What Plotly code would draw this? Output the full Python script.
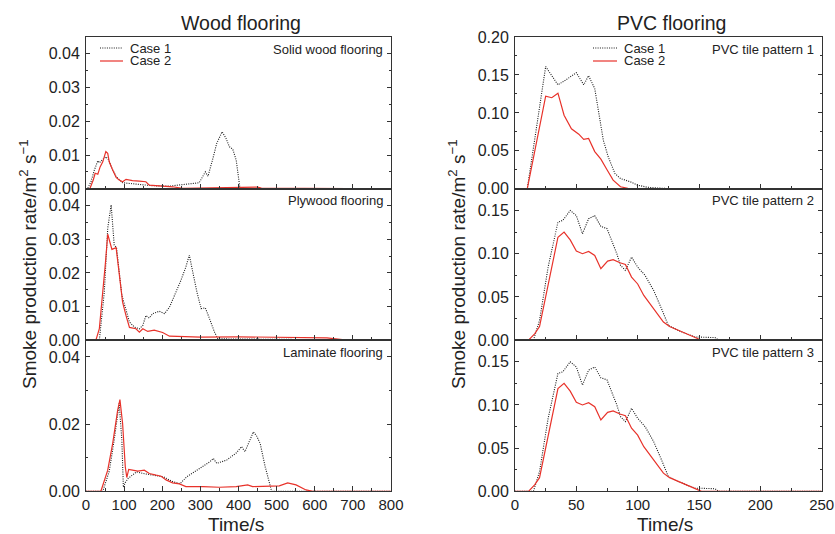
import plotly.graph_objects as go

# ---------------- data ----------------
# Wood flooring panels (time in s, smoke production rate in m2/s)
solid_t1 = [0, 4, 13, 22, 31, 35, 44, 52, 60, 66, 79, 96, 131, 175, 219, 262, 297, 313, 320, 334, 343, 357, 367, 376, 385, 394, 404, 800]
solid_v1 = [0, 0, 0.0021, 0.0056, 0.0083, 0.0077, 0.0087, 0.0095, 0.0085, 0.0065, 0.0036, 0.0018, 0.0014, 0.0009, 0.0008, 0.0013, 0.0018, 0.005, 0.0037, 0.0095, 0.0135, 0.0169, 0.015, 0.0125, 0.0117, 0.0085, 0.0, 0]
solid_t2 = [0, 10, 19, 24, 31, 37, 44, 52, 57, 61, 70, 79, 87, 96, 105, 122, 140, 157, 166, 201, 227, 254, 300, 400, 440, 450, 460, 800]
solid_v2 = [0, 0, 0.0026, 0.0046, 0.0043, 0.0065, 0.008, 0.011, 0.0105, 0.008, 0.0056, 0.0034, 0.0026, 0.0021, 0.0028, 0.0024, 0.0023, 0.0021, 0.0011, 0.0008, 0.0006, 0.0001, 0.0002, 0.0002, 0.0003, 0.0005, 0.0002, 0]

ply_t1 = [0, 35, 48, 57, 66, 74, 80, 87, 94, 105, 114, 127, 140, 149, 157, 166, 175, 192, 206, 219, 236, 249, 262, 271, 280, 291, 302, 313, 324, 337, 346, 800]
ply_v1 = [0, 0, 0.0143, 0.0333, 0.0402, 0.0283, 0.0275, 0.0213, 0.0134, 0.009, 0.0054, 0.0039, 0.0034, 0.0044, 0.0073, 0.0066, 0.0079, 0.0086, 0.0079, 0.0098, 0.0143, 0.0178, 0.0218, 0.0253, 0.0203, 0.0143, 0.0094, 0.0096, 0.0064, 0.0024, 0.0004, 0.0]
ply_t2 = [0, 26, 35, 44, 51, 57, 68, 79, 86, 96, 105, 114, 131, 140, 149, 162, 179, 201, 219, 300, 400, 500, 600, 632, 684, 800]
ply_v2 = [0, 0, 0.0034, 0.0133, 0.023, 0.0315, 0.027, 0.0275, 0.0203, 0.0113, 0.0073, 0.0038, 0.0034, 0.0024, 0.0034, 0.0026, 0.003, 0.0023, 0.0012, 0.0009, 0.001, 0.0009, 0.0008, 0.0007, 0, 0]

lam_t1 = [0, 44, 61, 74, 87, 94, 98, 103, 111, 133, 150, 185, 203, 229, 247, 264, 299, 325, 334, 343, 369, 395, 408, 417, 439, 448, 457, 470, 487, 800]
lam_v1 = [0, 0, 0.006, 0.0153, 0.0262, 0.0153, 0.0012, 0.0026, 0.0039, 0.0058, 0.0053, 0.0047, 0.0043, 0.0028, 0.0023, 0.0043, 0.0068, 0.0088, 0.0098, 0.0083, 0.0093, 0.0115, 0.0133, 0.0118, 0.0177, 0.0164, 0.0142, 0.0073, 0, 0]
lam_t2 = [0, 39, 57, 70, 83, 89, 96, 103, 107, 112, 122, 136, 153, 166, 184, 197, 210, 227, 245, 262, 306, 350, 394, 424, 437, 481, 507, 529, 551, 577, 595, 800]
lam_v2 = [0, 0, 0.0063, 0.0143, 0.0241, 0.0273, 0.0202, 0.0073, 0.0041, 0.0065, 0.0063, 0.006, 0.0063, 0.0053, 0.0048, 0.0045, 0.0034, 0.0025, 0.0022, 0.0014, 0.0014, 0.0012, 0.0014, 0.0019, 0.0014, 0.0016, 0.0016, 0.0025, 0.0019, 0.0004, 0, 0]

# PVC flooring panels
pvc1_t1 = [0, 10, 25, 35, 41, 50, 56, 60, 65, 69, 72, 76, 81.5, 86, 94, 100, 108, 120, 130, 250]
pvc1_v1 = [0, 0, 0.161, 0.137, 0.143, 0.153, 0.137, 0.149, 0.132, 0.095, 0.064, 0.042, 0.020, 0.0136, 0.0092, 0.0048, 0.002, 0.0007, 0, 0]
pvc1_t2 = [0, 10, 25, 30, 35, 40, 46, 52, 56, 60, 65, 70, 75, 80, 86, 92, 100, 250]
pvc1_v2 = [0, 0, 0.122, 0.120, 0.126, 0.097, 0.079, 0.072, 0.065, 0.0664, 0.049, 0.039, 0.025, 0.0115, 0.0027, 0.0005, 0, 0]

pvc2_t1 = [0, 15, 20, 27, 35, 39, 45, 50, 55, 60, 65, 70, 75, 79, 83, 86, 90, 95, 100, 106, 113, 120, 125, 133, 139, 147, 152, 158, 163, 166, 250]
pvc2_v1 = [0, 0, 0.0228, 0.0845, 0.1365, 0.1385, 0.150, 0.144, 0.123, 0.1404, 0.144, 0.1315, 0.129, 0.1153, 0.100, 0.0865, 0.0807, 0.0961, 0.0845, 0.075, 0.0576, 0.0345, 0.017, 0.0113, 0.0082, 0.0035, 0.0035, 0.003, 0.003, 0, 0]
pvc2_t2 = [0, 11, 16, 20, 35, 40, 45, 50, 55, 60, 65, 70, 75.5, 80, 85.6, 90, 95, 100, 105, 110, 115.5, 121, 126, 132, 139, 145, 152, 250]
pvc2_v2 = [0, 0, 0.0074, 0.0158, 0.119, 0.125, 0.116, 0.103, 0.1, 0.1026, 0.098, 0.0826, 0.0914, 0.093, 0.0895, 0.0875, 0.073, 0.065, 0.0517, 0.0421, 0.0305, 0.021, 0.0158, 0.012, 0.0074, 0.0035, 0, 0]

pvc3_t1, pvc3_v1 = pvc2_t1, pvc2_v1
pvc3_t2, pvc3_v2 = pvc2_t2, pvc2_v2

panel_labels = ["Solid wood flooring", "Plywood flooring", "Laminate flooring",
                "PVC tile pattern 1", "PVC tile pattern 2", "PVC tile pattern 3"]
series_names = ["Case 1", "Case 2"]
group_titles = ["Wood flooring", "PVC flooring"]
y_title = "Smoke production rate/m<sup>2</sup> s<sup>−1</sup>"
x_title = "Time/s"

# ---------------- layout helpers ----------------
W, H = 835, 534
def fx(p):
    return p / W
def fy(p):
    return 1 - p / H

FONT = "Liberation Sans, Arial, Helvetica, sans-serif"
TXT = "#222222"
AX = "#333333"
C1 = "#1a1a1a"
C2 = "#e8322a"

col_x = [(86, 391), (515, 821.7)]
row_y = [(37, 188.8), (188.8, 340.2), (340.2, 491.3)]

panels = [
    (0, 0, solid_t1, solid_v1, solid_t2, solid_v2),
    (1, 0, ply_t1, ply_v1, ply_t2, ply_v2),
    (2, 0, lam_t1, lam_v1, lam_t2, lam_v2),
    (0, 1, pvc1_t1, pvc1_v1, pvc1_t2, pvc1_v2),
    (1, 1, pvc2_t1, pvc2_v1, pvc2_t2, pvc2_v2),
    (2, 1, pvc3_t1, pvc3_v1, pvc3_t2, pvc3_v2),
]

fig = go.Figure()
layout = {}
annotations = []
shapes = []

for i, (r, c, t1, v1, t2, v2) in enumerate(panels):
    k = i + 1
    xn = "x" if k == 1 else f"x{k}"
    yn = "y" if k == 1 else f"y{k}"
    fig.add_trace(go.Scatter(x=t1, y=v1, mode="lines", name=series_names[0], xaxis=xn, yaxis=yn,
                             line=dict(color=C1, width=1.1, dash="1px,1.3px"), showlegend=False))
    fig.add_trace(go.Scatter(x=t2, y=v2, mode="lines", name=series_names[1], xaxis=xn, yaxis=yn,
                             line=dict(color=C2, width=1.2), showlegend=False))

    x0, x1 = col_x[c]
    ytop, ybot = row_y[r]
    if c == 0:
        xr, xd, xmd = [0, 800], 100, 50
        yr = [0, 0.045]
        yd, ymd = (0.01, 0.005) if r < 2 else (0.02, 0.01)
    else:
        xr, xd, xmd = [0, 250], 50, 25
        yr = [0, 0.2] if r == 0 else [0, 0.175]
        yd, ymd = 0.05, 0.025

    xa = dict(domain=[fx(x0), fx(x1)], range=xr, dtick=xd, tick0=0, anchor=yn,
              automargin=False,
              showline=True, linecolor=AX, linewidth=1, mirror=True,
              ticks="inside", ticklen=5, tickwidth=1, tickcolor=AX,
              minor=dict(dtick=xmd, ticks="inside", ticklen=3, tickcolor=AX),
              showgrid=False, zeroline=False, showticklabels=(r == 2),
              tickfont=dict(family=FONT, size=15, color=TXT))
    ya = dict(domain=[fy(ybot), fy(ytop)], range=yr, dtick=yd, tick0=0, anchor=xn,
              automargin=False, ticklabelstandoff=2,
              showline=True, linecolor=AX, linewidth=1, mirror="ticks",
              ticks="inside", ticklen=4, tickwidth=1, tickcolor=AX,
              minor=dict(dtick=ymd, ticks="inside", ticklen=2, tickcolor=AX),
              showgrid=False, zeroline=False, tickformat=".2f",
              tickfont=dict(family=FONT, size=16, color=TXT))
    layout["xaxis" if k == 1 else f"xaxis{k}"] = xa
    layout["yaxis" if k == 1 else f"yaxis{k}"] = ya

    # panel label, top-right inside
    annotations.append(dict(text=panel_labels[i], xref="paper", yref="paper",
                            x=fx(x1 - 6), y=fy(ytop + 12), xanchor="right", yanchor="middle",
                            showarrow=False, font=dict(family=FONT, size=13, color=TXT)))

# group titles, axis titles
for c in range(2):
    x0, x1 = col_x[c]
    annotations.append(dict(text=group_titles[c], xref="paper", yref="paper",
                            x=fx((x0 + x1) / 2 + 3), y=fy(23), xanchor="center", yanchor="middle",
                            showarrow=False, font=dict(family=FONT, size=19.5, color=TXT)))
    annotations.append(dict(text=x_title, xref="paper", yref="paper",
                            x=fx((x0 + x1) / 2 - 3), y=fy(524), xanchor="center", yanchor="middle",
                            showarrow=False, font=dict(family=FONT, size=19, color=TXT)))
    annotations.append(dict(text=y_title, xref="paper", yref="paper", textangle=-90,
                            x=fx(x0 - 58), y=fy(264), xanchor="center", yanchor="middle",
                            showarrow=False, font=dict(family=FONT, size=19, color=TXT)))

# legends (one per column, in the top panel)
leg_pos = [(100, 123, 128), (593, 617, 622)]
for c in range(2):
    lx0, lx1, tx = leg_pos[c]
    for j, (yy, col, dash, w) in enumerate([(48, C1, "1px,1.3px", 1.1), (61, C2, "solid", 1.2)]):
        shapes.append(dict(type="line", xref="paper", yref="paper",
                           x0=fx(lx0), x1=fx(lx1), y0=fy(yy), y1=fy(yy),
                           line=dict(color=col, width=w, dash=dash)))
        annotations.append(dict(text=series_names[j], xref="paper", yref="paper",
                                x=fx(tx), y=fy(yy), xanchor="left", yanchor="middle",
                                showarrow=False, font=dict(family=FONT, size=13, color=TXT)))

fig.update_layout(**layout)
fig.update_layout(width=W, height=H, margin=dict(l=0, r=0, t=0, b=0, autoexpand=False),
                  paper_bgcolor="white", plot_bgcolor="white",
                  annotations=annotations, shapes=shapes, showlegend=False,
                  font=dict(family=FONT, color=TXT))

fig.write_html("out.html", config={"displayModeBar": False},
               post_script="document.body.style.margin='0px';document.body.style.overflow='hidden';")
